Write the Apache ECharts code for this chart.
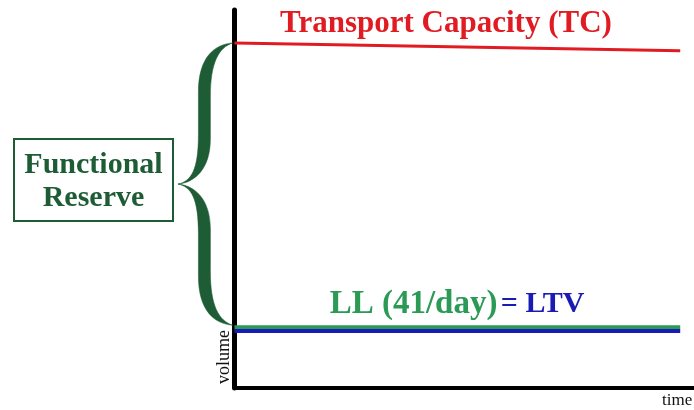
<!DOCTYPE html>
<html>
<head>
<meta charset="utf-8">
<script src="https://cdn.jsdelivr.net/npm/echarts@6/dist/echarts.min.js"></script>
<style>html,body{margin:0;padding:0;background:#fff;}#c{width:694px;height:410px;}</style>
</head>
<body>
<div id="c"></div>
<script>
// ---- data ----
const timeRange = [0, 97];          // x extent of the drawn lines
const tcValues = [91.3, 89.2];      // Transport Capacity (slightly falling)
const llValues = [16.1, 16.1];      // LL (4 l/day)
const ltvValues = [15.1, 15.1];     // LTV
const braceTop = 91.3;              // functional reserve spans TC..LL
const braceBottom = 16.6;
const braceTipX = -12.3;
const labels = {
  tc: 'Transport Capacity (TC)',
  ll: 'LL (41/day)',
  ltv: '= LTV',
  reserve: 'Functional\nReserve',
  xName: 'time',
  yName: 'volume'
};

const RED = '#e11b22', GREEN = '#2a9a55', BLUE = '#1a1ab4', DKGREEN = '#1d5c35';
const SERIF = '"Liberation Serif", "DejaVu Serif", serif';

const chart = echarts.init(document.getElementById('c'), null, {renderer: 'canvas'});

function pairs(xs, ys) { return xs.map((x, i) => [x, ys[i]]); }

chart.setOption({
  animation: false,
  grid: {left: 234.5, right: 0, top: 10, bottom: 22, containLabel: false},
  xAxis: {
    type: 'value', min: 0, max: 100,
    axisLine: {show: true, onZero: false, lineStyle: {color: '#000', width: 4}},
    axisTick: {show: false}, axisLabel: {show: false}, splitLine: {show: false}
  },
  yAxis: {
    type: 'value', min: 0, max: 100,
    axisLine: {show: true, onZero: false, lineStyle: {color: '#000', width: 5}},
    axisTick: {show: false}, axisLabel: {show: false}, splitLine: {show: false}
  },
  series: [
    {
      name: 'TC', type: 'line', data: pairs(timeRange, tcValues), symbol: 'none',
      lineStyle: {color: RED, width: 3}, z: 3
    },
    {
      name: 'LL', type: 'line', data: pairs(timeRange, llValues), symbol: 'none',
      lineStyle: {color: GREEN, width: 4}, z: 3
    },
    {
      name: 'LTV', type: 'line', data: pairs(timeRange, ltvValues), symbol: 'none',
      lineStyle: {color: BLUE, width: 4}, z: 4
    },
    {
      name: 'brace', type: 'custom', clip: false, z: 5,
      data: [[0, braceTop, braceBottom, braceTipX]],
      renderItem: function (params, api) {
        const a = api.coord([api.value(0), api.value(1)]);
        const b = api.coord([api.value(0), api.value(2)]);
        const p = api.coord([api.value(3), (api.value(1) + api.value(2)) / 2]);
        const xr = a[0] - 1.5, yt = a[1], yb = b[1], xt = p[0], ym = p[1];
        const H = ym - yt, H2 = yb - ym;
        const xs = xt + 0.48 * (xr - xt);
        const th = 6;
        const L = xs - th, R = xs + th;
        let d = 'M' + xr + ' ' + yt;
        d += ' C' + (xs + 0.35 * (xr - xs)) + ' ' + (yt + 0.01 * H) + ' ' + L + ' ' + (yt + 0.1 * H) + ' ' + L + ' ' + (yt + 0.35 * H);
        d += ' L' + L + ' ' + (ym - 0.35 * H);
        d += ' C' + L + ' ' + (ym - 0.1 * H) + ' ' + (xt + 0.5 * (xs - xt)) + ' ' + (ym - 0.02 * H) + ' ' + xt + ' ' + ym;
        d += ' C' + (xt + 0.5 * (xs - xt)) + ' ' + (ym + 0.02 * H2) + ' ' + L + ' ' + (ym + 0.1 * H2) + ' ' + L + ' ' + (ym + 0.35 * H2);
        d += ' L' + L + ' ' + (yb - 0.35 * H2);
        d += ' C' + L + ' ' + (yb - 0.1 * H2) + ' ' + (xs + 0.35 * (xr - xs)) + ' ' + (yb - 0.01 * H2) + ' ' + xr + ' ' + yb;
        d += ' C' + (xs + 0.5 * (xr - xs)) + ' ' + (yb - 0.03 * H2) + ' ' + R + ' ' + (yb - 0.14 * H2) + ' ' + R + ' ' + (yb - 0.38 * H2);
        d += ' L' + R + ' ' + (ym + 0.32 * H2);
        d += ' C' + R + ' ' + (ym + 0.1 * H2) + ' ' + (xt + 0.6 * (xs - xt)) + ' ' + (ym + 0.01 * H2) + ' ' + xt + ' ' + ym;
        d += ' C' + (xt + 0.6 * (xs - xt)) + ' ' + (ym - 0.01 * H) + ' ' + R + ' ' + (ym - 0.1 * H) + ' ' + R + ' ' + (ym - 0.32 * H);
        d += ' L' + R + ' ' + (yt + 0.38 * H);
        d += ' C' + R + ' ' + (yt + 0.14 * H) + ' ' + (xs + 0.5 * (xr - xs)) + ' ' + (yt + 0.03 * H) + ' ' + xr + ' ' + yt;
        d += ' Z';
        return {type: 'path', shape: {pathData: d}, style: {fill: DKGREEN, stroke: DKGREEN, lineWidth: 0.5}};
      }
    }
  ],
  graphic: [
    {
      type: 'text', x: 446, y: 24, z: 10,
      style: {text: labels.tc, fill: RED, font: 'bold 31px ' + SERIF, textAlign: 'center', textVerticalAlign: 'middle'}
    },
    {
      type: 'text', x: 457, y: 304, z: 10,
      style: {
        text: '{g|' + labels.ll + '} {b|' + labels.ltv + '}',
        textAlign: 'center', textVerticalAlign: 'middle',
        rich: {
          g: {fill: GREEN, color: GREEN, font: 'bold 33px ' + SERIF, fontFamily: SERIF, fontWeight: 'bold', fontSize: 33},
          b: {fill: BLUE, color: BLUE, font: 'bold 30px ' + SERIF, fontFamily: SERIF, fontWeight: 'bold', fontSize: 30}
        }
      }
    },
    {
      type: 'rect', shape: {x: 14, y: 139, width: 159, height: 82}, z: 10,
      style: {fill: '#fff', stroke: DKGREEN, lineWidth: 2}
    },
    {
      type: 'text', x: 93.5, y: 181.5, z: 11,
      style: {text: labels.reserve, fill: DKGREEN, font: 'bold 30px ' + SERIF, lineHeight: 33,
              textAlign: 'center', textVerticalAlign: 'middle'}
    },
    {
      type: 'text', x: 224, y: 357, rotation: Math.PI / 2, z: 10,
      style: {text: labels.yName, fill: '#111', font: '18px ' + SERIF, textAlign: 'center', textVerticalAlign: 'middle'}
    },
    {
      type: 'text', x: 662, y: 401, z: 10,
      style: {text: labels.xName, fill: '#111', font: '17px ' + SERIF, textAlign: 'left', textVerticalAlign: 'middle'}
    }
  ]
});
</script>
</body>
</html>
